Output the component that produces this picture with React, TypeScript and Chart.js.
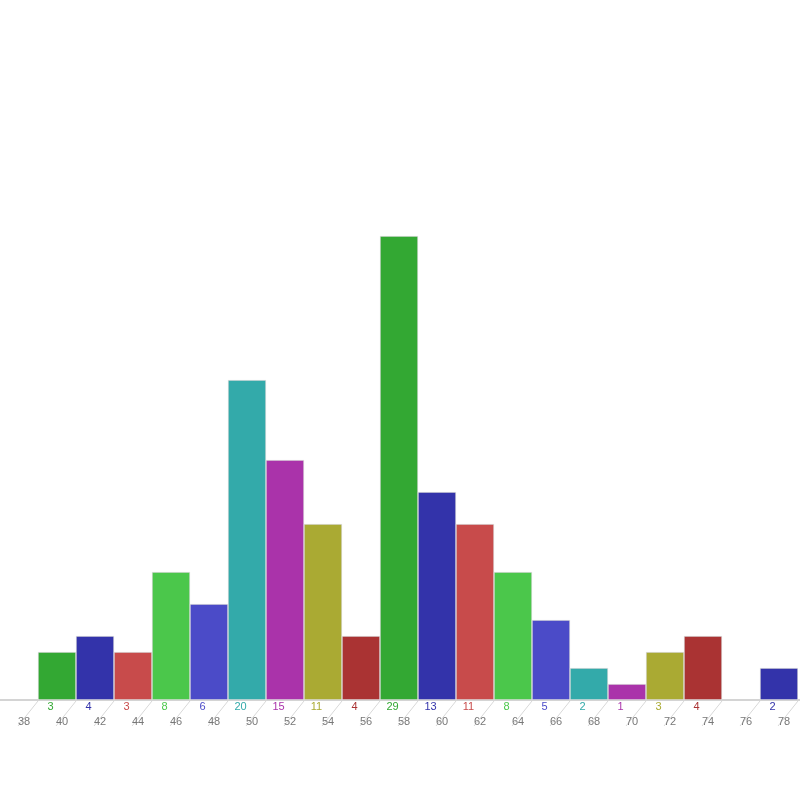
import React, { useEffect, useRef } from "react";
import { Chart, registerables } from "chart.js";

Chart.register(...registerables);

const binEdges = [38, 40, 42, 44, 46, 48, 50, 52, 54, 56, 58, 60, 62, 64, 66, 68, 70, 72, 74, 76, 78];
const counts = [3, 4, 3, 8, 6, 20, 15, 11, 4, 29, 13, 11, 8, 5, 2, 1, 3, 4, 0, 2];
const palette = ["#33A833", "#3333AA", "#C84B4B", "#4BC74B", "#4B4BC8", "#33AAAA", "#AA33AA", "#AAAA33", "#AA3333"];

export default function App() {
  const ref = useRef<HTMLCanvasElement | null>(null);

  useEffect(() => {
    if (!ref.current) return;
    const data = counts.map((c, i) => ({ x: (binEdges[i] + binEdges[i + 1]) / 2, y: c }));
    const colors = counts.map((_, i) => palette[i % palette.length]);

    const overlay = {
      id: "overlay",
      beforeDatasetsDraw(chart: any) {
        const ctx = chart.ctx;
        const y = chart.scales.y;
        const base = y.getPixelForValue(0);
        ctx.save();
        ctx.strokeStyle = "#d4d4d4";
        ctx.lineWidth = 2;
        ctx.beginPath();
        ctx.moveTo(0, base);
        ctx.lineTo(800, base);
        ctx.stroke();
        ctx.restore();
      },
      afterDatasetsDraw(chart: any) {
        const ctx = chart.ctx;
        const x = chart.scales.x;
        const y = chart.scales.y;
        const base = y.getPixelForValue(0);
        ctx.save();
        // diagonal tick lines
        ctx.strokeStyle = "#d8d8d8";
        ctx.lineWidth = 1;
        binEdges.forEach((e) => {
          const px = x.getPixelForValue(e);
          ctx.beginPath();
          ctx.moveTo(px, base + 1);
          ctx.lineTo(px - 20, base + 26);
          ctx.stroke();
        });
        // count labels
        ctx.font = "11px 'Liberation Sans', Arial, sans-serif";
        ctx.textAlign = "center";
        ctx.textBaseline = "middle";
        counts.forEach((c, i) => {
          if (c === 0) return;
          const cx = x.getPixelForValue((binEdges[i] + binEdges[i + 1]) / 2);
          ctx.fillStyle = colors[i];
          ctx.fillText(String(c), cx - 6.5, base + 6.5);
        });
        // edge labels
        ctx.fillStyle = "#777777";
        binEdges.forEach((e) => {
          const px = x.getPixelForValue(e);
          ctx.fillText(String(e), px - 14, base + 22);
        });
        ctx.restore();
      },
    };

    const chart = new Chart(ref.current, {
      type: "bar",
      data: {
        datasets: [
          {
            data,
            backgroundColor: colors,
            borderColor: "#dddddd",
            borderWidth: 1,
            borderSkipped: false,
            barPercentage: 1,
            categoryPercentage: 1,
          },
        ],
      },
      options: {
        animation: false,
        responsive: false,
        layout: { padding: { left: 0, right: 2, top: 60, bottom: 100 } },
        plugins: { legend: { display: false }, tooltip: { enabled: false } },
        scales: {
          x: { type: "linear", min: 36, max: 78, offset: false, display: false },
          y: { min: 0, max: 40, display: false },
        },
      },
      plugins: [overlay],
    } as any);
    return () => chart.destroy();
  }, []);

  return (
    <div style={{ position: "fixed", left: 0, top: 0, width: 800, height: 800, background: "#fff" }}>
      <canvas ref={ref} width={800} height={800} style={{ width: 800, height: 800 }} />
    </div>
  );
}
